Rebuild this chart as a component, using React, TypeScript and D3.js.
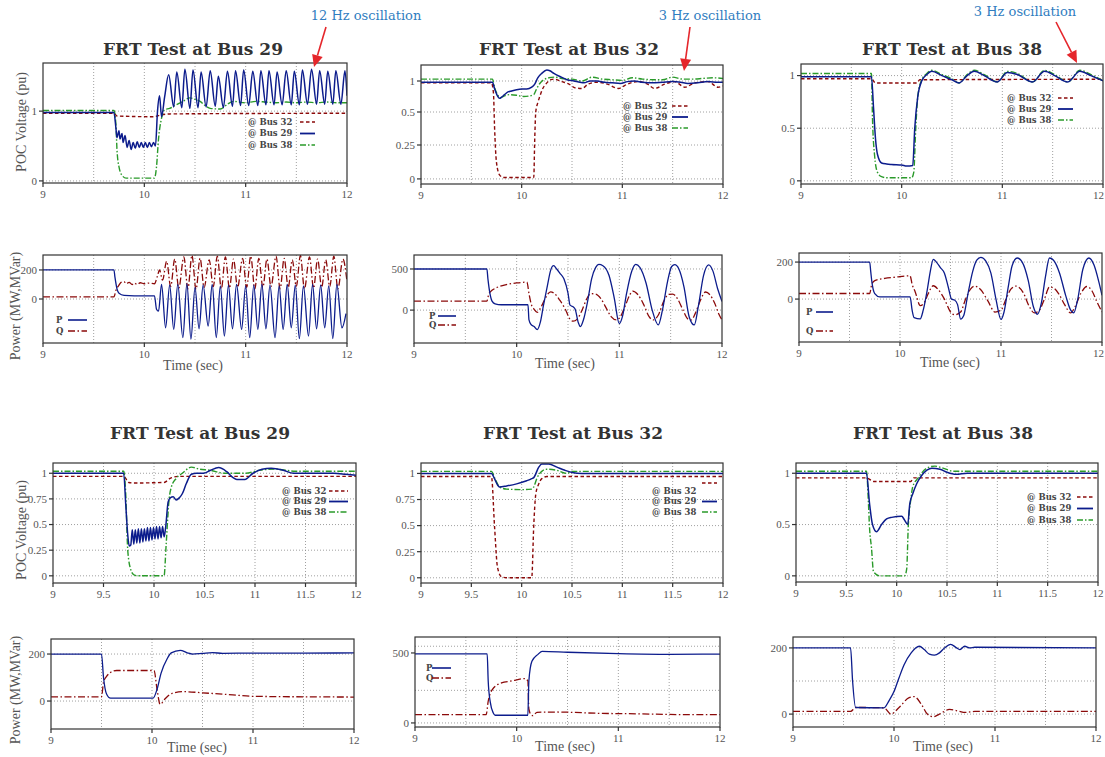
import React from 'react';
import * as d3 from 'd3';

type Pt = [number, number];

// ---------------- DATA ----------------
// Top row, FRT at Bus 29 (voltage)
const t1Bus32: Pt[] = [[9,0.97],[9.7,0.97],[9.73,0.93],[10.1,0.92],[10.15,0.94],[10.25,0.96],[12,0.97]];
const t1Bus29Pre: Pt[] = [[9,0.98],[9.7,0.98],[9.72,0.75],[9.73,0.62],[9.75,0.72],[9.76,0.6],[9.78,0.68],[9.79,0.55],[9.81,0.65],[9.83,0.48],[9.85,0.58],[9.87,0.45],[9.89,0.55],[9.91,0.47],[9.93,0.56],[9.95,0.48],[9.97,0.55],[9.99,0.48],[10.01,0.55],[10.03,0.48],[10.05,0.55],[10.07,0.49],[10.09,0.55],[10.11,0.5],[10.13,1.0],[10.15,1.22],[10.17,0.92],[10.2,1.2]];
const t1Bus29Peaks: Pt[] = [[10.24,1.52],[10.32,1.56],[10.40,1.60],[10.48,1.59],[10.56,1.56],[10.65,1.58],[10.73,1.50],[10.82,1.57],[10.90,1.58],[10.98,1.59],[11.07,1.57],[11.15,1.58],[11.23,1.58],[11.31,1.56],[11.40,1.58],[11.48,1.57],[11.56,1.59],[11.65,1.60],[11.73,1.58],[11.81,1.57],[11.89,1.58],[11.98,1.58]];
const t1Bus29Troughs: Pt[] = [[10.29,1.06],[10.37,1.05],[10.45,1.04],[10.53,1.05],[10.61,1.06],[10.70,1.07],[10.78,1.05],[10.87,1.07],[10.95,1.08],[11.03,1.08],[11.12,1.08],[11.20,1.09],[11.28,1.09],[11.36,1.09],[11.45,1.09],[11.53,1.09],[11.61,1.10],[11.70,1.10],[11.78,1.10],[11.86,1.10],[11.94,1.10],[12.0,1.22]];
const t1Bus38: Pt[] = [[9,1.01],[9.7,1.01],[9.72,0.8],[9.73,0.45],[9.75,0.2],[9.78,0.08],[9.82,0.04],[10.1,0.04],[10.12,0.2],[10.14,0.6],[10.17,0.9],[10.2,1.02],[10.25,1.04],[10.3,1.08],[10.38,1.14],[10.45,1.19],[10.5,1.17],[10.55,1.14],[10.6,1.08],[10.65,1.04],[10.75,1.03],[10.82,1.1],[10.88,1.14],[11.0,1.12],[11.1,1.14],[11.2,1.13],[11.3,1.12],[11.4,1.13],[11.5,1.12],[11.6,1.13],[11.7,1.12],[11.8,1.13],[11.9,1.12],[12,1.12]];

// Top row, FRT at Bus 32 (voltage)
const t2Bus32: Pt[] = [[9,0.97],[9.7,0.97],[9.72,0.8],[9.73,0.4],[9.75,0.12],[9.78,0.03],[9.82,0.01],[10.12,0.01],[10.13,0.3],[10.14,0.5],[10.16,0.65],[10.18,0.75],[10.21,0.88],[10.24,0.95],[10.29,1.02],[10.32,1.03],[10.4,0.99],[10.47,0.95],[10.53,0.89],[10.6,0.88],[10.66,0.95],[10.75,0.98],[10.85,0.95],[10.96,0.88],[11.05,0.95],[11.15,0.99],[11.25,0.95],[11.32,0.88],[11.42,0.95],[11.52,0.99],[11.62,0.9],[11.72,0.97],[11.85,0.99],[11.95,0.9],[12,0.92]];
const t2Bus29: Pt[] = [[9,0.98],[9.71,0.98],[9.73,0.88],[9.76,0.76],[9.78,0.72],[9.8,0.74],[9.83,0.78],[9.86,0.82],[9.9,0.84],[9.95,0.86],[10.0,0.87],[10.05,0.87],[10.1,0.9],[10.13,0.95],[10.16,1.05],[10.2,1.12],[10.25,1.17],[10.28,1.16],[10.32,1.12],[10.38,1.07],[10.45,1.02],[10.52,1.0],[10.58,0.98],[10.62,0.97],[10.68,1.0],[10.75,1.0],[10.82,0.98],[10.9,0.97],[10.98,0.96],[11.05,0.99],[11.12,1.0],[11.2,0.98],[11.3,0.97],[11.4,0.98],[11.5,0.99],[11.58,0.98],[11.65,0.96],[11.75,0.97],[11.85,0.99],[11.95,0.98],[12,0.98]];
const t2Bus38: Pt[] = [[9,1.03],[9.71,1.03],[9.73,0.9],[9.76,0.78],[9.79,0.73],[9.83,0.76],[9.88,0.78],[9.95,0.77],[10.02,0.75],[10.08,0.76],[10.12,0.78],[10.15,0.88],[10.18,0.96],[10.22,1.02],[10.27,1.05],[10.33,1.06],[10.4,1.04],[10.5,1.03],[10.6,1.0],[10.7,1.06],[10.8,1.03],[10.9,1.02],[11.0,1.01],[11.1,1.05],[11.2,1.03],[11.3,1.02],[11.4,1.02],[11.5,1.06],[11.6,1.03],[11.7,1.03],[11.8,1.04],[11.9,1.05],[12,1.04]];

// Top row, FRT at Bus 38 (voltage)
const t3Bus32: Pt[] = [[9,0.97],[9.7,0.97],[9.74,0.93],[10.15,0.93],[10.18,0.96],[12,0.965]];
const t3Bus29: Pt[] = [[9,0.99],[9.7,0.99],[9.72,0.7],[9.74,0.4],[9.76,0.25],[9.8,0.17],[9.85,0.16],[9.9,0.155],[10.0,0.15],[10.05,0.14],[10.11,0.145],[10.13,0.5],[10.16,0.8],[10.2,0.95],[10.25,1.01],[10.3,1.04],[10.4,1.0],[10.5,0.96],[10.57,0.93],[10.65,1.0],[10.72,1.04],[10.82,1.0],[10.95,0.94],[11.05,1.03],[11.15,1.01],[11.3,0.94],[11.42,1.04],[11.52,1.0],[11.65,0.94],[11.77,1.04],[11.88,1.0],[12,0.95]];
const t3Bus38: Pt[] = [[9,1.02],[9.7,1.02],[9.71,0.6],[9.73,0.25],[9.76,0.08],[9.8,0.04],[9.85,0.03],[10.1,0.03],[10.12,0.08],[10.14,0.5],[10.16,0.8],[10.2,0.96],[10.25,1.02],[10.3,1.05],[10.4,1.01],[10.5,0.97],[10.57,0.93],[10.65,1.01],[10.72,1.05],[10.82,1.01],[10.95,0.94],[11.05,1.04],[11.15,1.02],[11.3,0.94],[11.42,1.05],[11.52,1.01],[11.65,0.94],[11.77,1.05],[11.88,1.01],[12,0.95]];

// Top row power panels
const t4PPre: Pt[] = [[9,200],[9.7,200],[9.71,150],[9.73,70],[9.75,40],[9.8,25],[9.9,22],[10.1,22],[10.12,-70],[10.14,-84],[10.17,100]];
const t4PTroughs: Pt[] = [[10.21,-198],[10.29,-209],[10.38,-266],[10.46,-277],[10.54,-205],[10.63,-186],[10.71,-266],[10.79,-255],[10.87,-205],[10.96,-209],[11.04,-266],[11.12,-209],[11.2,-205],[11.29,-266],[11.37,-209],[11.45,-198],[11.53,-273],[11.62,-255],[11.7,-205],[11.78,-198],[11.86,-273],[11.95,-198]];
const t4PPeaks: Pt[] = [[10.25,95],[10.33,100],[10.42,105],[10.5,80],[10.58,95],[10.67,100],[10.75,90],[10.83,95],[10.91,100],[11.0,90],[11.08,95],[11.16,100],[11.24,95],[11.33,90],[11.41,100],[11.49,95],[11.57,90],[11.66,100],[11.74,95],[11.82,90],[11.9,100],[11.99,-100]];
const t4QPre: Pt[] = [[9,15],[9.7,15],[9.72,60],[9.75,95],[9.77,115],[9.8,120],[9.82,105],[9.85,115],[9.88,100],[9.9,110],[9.93,100],[9.96,112],[10.0,105],[10.05,110],[10.1,105],[10.13,160],[10.15,200],[10.18,130]];
const t4QPeaks: Pt[] = [[10.22,260],[10.3,275],[10.39,290],[10.47,300],[10.55,280],[10.64,270],[10.72,295],[10.8,290],[10.88,275],[10.97,280],[11.05,295],[11.13,280],[11.21,275],[11.3,295],[11.38,280],[11.46,270],[11.54,300],[11.63,290],[11.71,275],[11.79,270],[11.87,295],[11.96,275]];
const t4QTroughs: Pt[] = [[10.26,85],[10.34,75],[10.43,70],[10.51,65],[10.59,80],[10.68,85],[10.76,70],[10.84,75],[10.92,80],[11.01,80],[11.09,70],[11.17,80],[11.25,85],[11.34,70],[11.42,80],[11.5,85],[11.58,70],[11.67,75],[11.75,80],[11.83,85],[11.91,70],[12.0,120]];

const t5P: Pt[] = [[9,500],[9.71,500],[9.72,380],[9.74,200],[9.76,110],[9.79,77],[9.85,65],[10.11,65],[10.12,-120],[10.14,-175],[10.17,-200],[10.2,-238],[10.23,-150],[10.26,50],[10.3,300],[10.33,480],[10.36,540],[10.39,500],[10.42,450],[10.46,380],[10.5,206],[10.52,60],[10.55,40],[10.57,10],[10.6,-150],[10.62,-200],[10.65,-120],[10.69,100],[10.73,380],[10.77,520],[10.8,556],[10.84,540],[10.9,420],[10.95,150],[11.0,-165],[11.03,-80],[11.07,200],[11.12,470],[11.16,555],[11.2,520],[11.26,330],[11.32,0],[11.38,-180],[11.42,0],[11.47,350],[11.51,530],[11.54,552],[11.58,500],[11.63,280],[11.68,-80],[11.73,-180],[11.77,50],[11.82,420],[11.87,550],[11.91,480],[11.96,250],[12,105]];
const t5Q: Pt[] = [[9,110],[9.71,110],[9.73,200],[9.76,240],[9.8,270],[9.9,310],[10.0,330],[10.1,340],[10.12,200],[10.14,80],[10.17,10],[10.2,-28],[10.23,20],[10.27,120],[10.3,190],[10.33,222],[10.37,200],[10.42,120],[10.47,20],[10.52,-110],[10.55,-135],[10.59,-110],[10.63,-20],[10.68,130],[10.72,200],[10.77,195],[10.82,140],[10.87,30],[10.92,-80],[10.97,-120],[11.01,-80],[11.06,60],[11.1,180],[11.13,230],[11.18,190],[11.24,60],[11.29,-80],[11.33,-120],[11.38,-60],[11.43,100],[11.48,190],[11.52,195],[11.57,130],[11.62,0],[11.67,-110],[11.7,-120],[11.74,-40],[11.79,120],[11.84,220],[11.88,190],[11.93,80],[11.97,-50],[12,-120]];

const t6P: Pt[] = [[9,200],[9.7,200],[9.71,150],[9.72,100],[9.75,30],[9.8,12],[10.1,12],[10.12,-60],[10.14,-100],[10.2,-107],[10.23,-60],[10.27,50],[10.3,150],[10.33,215],[10.36,200],[10.4,170],[10.44,140],[10.48,60],[10.51,0],[10.54,-5],[10.57,-30],[10.6,-108],[10.63,-90],[10.67,20],[10.72,150],[10.76,210],[10.8,225],[10.85,205],[10.9,140],[10.95,0],[11.0,-110],[11.03,-70],[11.07,60],[11.11,180],[11.16,222],[11.21,200],[11.27,100],[11.32,-40],[11.36,-82],[11.4,-20],[11.44,120],[11.48,222],[11.52,210],[11.58,140],[11.64,20],[11.69,-60],[11.72,-75],[11.76,0],[11.81,160],[11.87,222],[11.92,185],[11.97,90],[12,20]];
const t6Q: Pt[] = [[9,30],[9.7,30],[9.72,80],[9.75,100],[9.85,112],[9.95,118],[10.1,126],[10.12,80],[10.15,40],[10.2,-35],[10.24,-20],[10.28,30],[10.33,72],[10.38,50],[10.44,0],[10.5,-70],[10.54,-85],[10.6,-70],[10.65,0],[10.7,55],[10.74,70],[10.8,50],[10.87,-10],[10.94,-70],[11.0,-60],[11.05,0],[11.1,55],[11.15,70],[11.22,35],[11.28,-40],[11.33,-75],[11.38,-60],[11.43,0],[11.48,65],[11.52,60],[11.57,30],[11.63,-30],[11.69,-75],[11.73,-45],[11.79,30],[11.85,68],[11.9,45],[11.95,-15],[12,-70]];

// Bottom row
const b1Bus32: Pt[] = [[9,0.97],[9.7,0.97],[9.75,0.91],[9.8,0.905],[10.1,0.91],[10.16,0.95],[10.25,0.97],[12,0.97]];
const b1Bus29: Pt[] = [[9,1.0],[9.7,1.0],[9.72,0.7],[9.74,0.4],[9.755,0.29],[9.77,0.30],[9.785,0.45],[9.80,0.31],[9.815,0.45],[9.83,0.32],[9.845,0.46],[9.86,0.32],[9.875,0.46],[9.89,0.33],[9.905,0.46],[9.92,0.34],[9.935,0.47],[9.95,0.34],[9.965,0.47],[9.98,0.35],[9.995,0.47],[10.01,0.36],[10.025,0.48],[10.04,0.36],[10.055,0.48],[10.07,0.37],[10.085,0.48],[10.1,0.38],[10.115,0.47],[10.14,0.72],[10.16,0.76],[10.19,0.77],[10.22,0.74],[10.25,0.76],[10.28,0.8],[10.32,0.9],[10.37,0.99],[10.42,1.0],[10.49,1.0],[10.56,1.03],[10.64,1.055],[10.72,1.015],[10.78,0.96],[10.82,0.94],[10.9,0.94],[10.98,1.0],[11.07,1.04],[11.16,1.05],[11.28,1.03],[11.38,1.0],[11.5,1.0],[11.61,1.0],[11.78,1.0],[11.9,0.99],[12,0.98]];
const b1Bus38: Pt[] = [[9,1.02],[9.7,1.02],[9.72,0.8],[9.74,0.25],[9.77,0.06],[9.8,0.01],[9.83,0.0],[10.1,0.0],[10.12,0.3],[10.15,0.75],[10.17,0.86],[10.22,0.95],[10.28,1.0],[10.37,1.06],[10.45,1.04],[10.55,1.03],[10.7,1.0],[10.8,1.0],[10.9,1.0],[11.05,1.03],[11.2,1.04],[11.4,1.02],[12,1.02]];
const b1P: Pt[] = [[9,200],[9.5,200],[9.52,100],[9.55,30],[9.59,12],[10.01,12],[10.05,50],[10.09,119],[10.15,180],[10.19,205],[10.28,216],[10.35,205],[10.4,200],[10.5,203],[10.6,206],[10.7,203],[11,204],[11.5,204],[12,205]];
const b1Q: Pt[] = [[9,18],[9.5,18],[9.52,80],[9.55,105],[9.58,119],[9.65,130],[10.02,130],[10.05,50],[10.08,-14],[10.13,10],[10.2,33],[10.31,40],[10.5,35],[10.8,26],[11,20],[12,17]];

const b2Bus32: Pt[] = [[9,0.97],[9.7,0.97],[9.73,0.5],[9.76,0.1],[9.8,0.01],[9.85,0.0],[10.1,0.0],[10.12,0.5],[10.14,0.8],[10.17,0.9],[10.2,0.95],[10.25,0.97],[12,0.97]];
const b2Bus29: Pt[] = [[9,1.0],[9.7,1.0],[9.73,0.95],[9.76,0.89],[9.78,0.87],[9.85,0.88],[9.95,0.9],[10.05,0.93],[10.1,0.95],[10.12,0.96],[10.17,1.06],[10.2,1.09],[10.27,1.09],[10.35,1.06],[10.43,1.03],[10.5,1.01],[10.6,1.0],[12,1.0]];
const b2Bus38: Pt[] = [[9,1.02],[9.7,1.02],[9.73,0.96],[9.76,0.9],[9.78,0.87],[9.85,0.85],[10.0,0.845],[10.1,0.85],[10.12,0.87],[10.15,0.95],[10.2,1.02],[10.25,1.04],[10.35,1.03],[10.45,1.0],[10.5,1.02],[12,1.02]];
const b2P: Pt[] = [[9,493],[9.71,493],[9.72,300],[9.74,150],[9.77,71],[9.79,55],[10.11,55],[10.12,300],[10.15,440],[10.21,490],[10.25,512],[10.5,505],[11,495],[11.5,490],[12,492]];
const b2Q: Pt[] = [[9,60],[9.7,60],[9.72,155],[9.76,238],[9.85,286],[9.95,300],[10.08,317],[10.11,300],[10.12,100],[10.14,60],[10.16,52],[10.2,76],[10.4,78],[10.8,69],[11.2,65],[11.6,60],[12,60]];

const b3Bus32: Pt[] = [[9,0.955],[9.7,0.955],[9.77,0.92],[10.14,0.92],[10.17,0.955],[12,0.955]];
const b3Bus29: Pt[] = [[9,1.0],[9.7,1.0],[9.73,0.71],[9.76,0.5],[9.8,0.43],[9.85,0.5],[9.9,0.555],[9.95,0.57],[10.05,0.58],[10.075,0.55],[10.11,0.5],[10.13,0.7],[10.16,0.8],[10.2,0.9],[10.25,0.98],[10.3,1.03],[10.35,1.05],[10.43,1.04],[10.5,1.01],[10.59,0.99],[10.7,1.0],[12,1.0]];
const b3Bus38: Pt[] = [[9,1.02],[9.7,1.02],[9.72,0.7],[9.73,0.48],[9.75,0.27],[9.77,0.04],[9.83,0.0],[10.08,0.0],[10.1,0.07],[10.115,0.48],[10.14,0.74],[10.16,0.87],[10.21,0.95],[10.3,1.05],[10.38,1.07],[10.46,1.05],[10.56,1.02],[12,1.02]];
const b3P: Pt[] = [[9,200],[9.57,200],[9.59,100],[9.62,20],[9.9,19],[9.95,40],[10.0,68],[10.05,110],[10.1,149],[10.17,185],[10.25,205],[10.3,195],[10.35,181],[10.4,178],[10.45,185],[10.5,200],[10.56,211],[10.62,200],[10.65,195],[10.7,205],[10.75,200],[10.8,202],[12,200]];
const b3Q: Pt[] = [[9,8],[9.57,8],[9.62,20],[9.9,19],[9.97,0],[10.05,20],[10.15,50],[10.2,53],[10.27,30],[10.33,0],[10.39,-8],[10.45,0],[10.55,14],[10.65,8],[10.7,5],[10.8,8],[12,8]];

// Tick values / labels
const xTicksWhole = [9, 10, 11, 12];
const xTicksHalf = [9, 9.5, 10, 10.5, 11, 11.5, 12];
const xGridHalf = [9.5, 10, 10.5, 11, 11.5];
const busLabels = ['@ Bus 32', '@ Bus 29', '@ Bus 38'];
const pqLabels = ['P', 'Q'];
const titles = ['FRT Test at Bus 29', 'FRT Test at Bus 32', 'FRT Test at Bus 38'];
const annotations = ['12 Hz oscillation', '3 Hz oscillation', '3 Hz oscillation'];

const merge = (...arrs: Pt[][]): Pt[] => ([] as Pt[]).concat(...arrs).sort((a, b) => a[0] - b[0]);

// ---------------- STYLES ----------------
const STY: Record<string, { stroke: string; dash?: string; width: number }> = {
  bus32: { stroke: '#8b0a0a', dash: '3.5,2.5', width: 1.4 },
  bus29: { stroke: '#0c1c8c', width: 1.5 },
  bus38: { stroke: '#2a9a2a', dash: '6,2,1.5,2', width: 1.4 },
  P: { stroke: '#0c1c8c', width: 1.3 },
  Q: { stroke: '#8b0a0a', dash: '7,2.5,1.5,2.5', width: 1.3 },
};

const SERIF = '"Liberation Serif", "DejaVu Serif", serif';
const WIDE = '"DejaVu Serif", "Liberation Serif", serif';
const PAGE_W = 1105;

interface Legend { x: number; y: number; dy: number; lx1: number; lx2: number; lineDy?: number[]; }
interface PanelCfg {
  id: string;
  box: [number, number, number, number];
  yDomain: number[];
  yRange?: number[];
  yTicks: number[];
  yTickLabels: string[];
  yGrid: number[];
  xTicks: number[];
  xGrid: number[];
  series: { data: Pt[]; style: string }[];
  legendLabels?: string[];
  legendStyles?: string[];
  legend?: Legend;
  title?: { x: number; y: number; text: string };
  xLabel?: { x: number; y: number };
  yLabel?: { x: number; y: number; text: string };
}

const busStyles = ['bus32', 'bus29', 'bus38'];
const pqStyles = ['P', 'Q'];

const panels: PanelCfg[] = [
  {
    id: 'p1', box: [43, 63, 347, 183], yDomain: [-0.03, 1.69], yTicks: [0, 1], yTickLabels: ['0', '1'], yGrid: [0, 1],
    xTicks: xTicksWhole, xGrid: xGridHalf,
    series: [{ data: t1Bus32, style: 'bus32' }, { data: t1Bus38, style: 'bus38' }, { data: merge(t1Bus29Pre, t1Bus29Peaks, t1Bus29Troughs), style: 'bus29' }],
    legendLabels: busLabels, legendStyles: busStyles, legend: { x: 248, y: 122, dy: 11.5, lx1: 300, lx2: 315 },
    title: { x: 193, y: 49, text: titles[0] }, yLabel: { x: 21, y: 122, text: 'POC Voltage (pu)' },
  },
  {
    id: 'p2', box: [421, 65, 723, 184], yDomain: [-0.0375, 0.25, 0.5, 1, 1.25], yRange: [184, 145, 112, 81, 65],
    yTicks: [0, 0.25, 0.5, 1], yTickLabels: ['0', '0.25', '0.5', '1'], yGrid: [0, 0.25, 0.5, 1],
    xTicks: xTicksWhole, xGrid: xGridHalf,
    series: [{ data: t2Bus32, style: 'bus32' }, { data: t2Bus38, style: 'bus38' }, { data: t2Bus29, style: 'bus29' }],
    legendLabels: busLabels, legendStyles: busStyles, legend: { x: 623, y: 106, dy: 11, lx1: 672, lx2: 688 },
    title: { x: 569, y: 49, text: titles[1] },
  },
  {
    id: 'p3', box: [801, 64, 1103, 184], yDomain: [-0.03, 1.11], yTicks: [0, 0.5, 1], yTickLabels: ['0', '0.5', '1'], yGrid: [0, 0.5, 1],
    xTicks: xTicksWhole, xGrid: xGridHalf,
    series: [{ data: t3Bus32, style: 'bus32' }, { data: t3Bus38, style: 'bus38' }, { data: t3Bus29, style: 'bus29' }],
    legendLabels: busLabels, legendStyles: busStyles, legend: { x: 1007, y: 98, dy: 11, lx1: 1058, lx2: 1073 },
    title: { x: 952, y: 49, text: titles[2] },
  },
  {
    id: 'p4', box: [43, 255, 347, 343], yDomain: [-303, 303], yTicks: [0, 200], yTickLabels: ['0', '200'], yGrid: [0, 200],
    xTicks: xTicksWhole, xGrid: xGridHalf,
    series: [{ data: merge(t4QPre, t4QPeaks, t4QTroughs), style: 'Q' }, { data: merge(t4PPre, t4PTroughs, t4PPeaks), style: 'P' }],
    legendLabels: pqLabels, legendStyles: pqStyles, legend: { x: 56, y: 320, dy: 11, lx1: 68, lx2: 87 },
    xLabel: { x: 193, y: 365 }, yLabel: { x: 15, y: 306, text: 'Power (MW,MVar)' },
  },
  {
    id: 'p5', box: [414, 255, 722, 343], yDomain: [-400, 670], yTicks: [0, 500], yTickLabels: ['0', '500'], yGrid: [0, 500],
    xTicks: xTicksWhole, xGrid: xGridHalf,
    series: [{ data: t5Q, style: 'Q' }, { data: t5P, style: 'P' }],
    legendLabels: pqLabels, legendStyles: pqStyles, legend: { x: 429, y: 316, dy: 9, lx1: 438, lx2: 456 },
    xLabel: { x: 565, y: 363 },
  },
  {
    id: 'p6', box: [799, 253, 1102, 342], yDomain: [-232, 249], yTicks: [0, 200], yTickLabels: ['0', '200'], yGrid: [0, 200],
    xTicks: xTicksWhole, xGrid: xGridHalf,
    series: [{ data: t6Q, style: 'Q' }, { data: t6P, style: 'P' }],
    legendLabels: pqLabels, legendStyles: pqStyles, legend: { x: 806, y: 312, dy: 19, lx1: 816, lx2: 833 },
    xLabel: { x: 950, y: 362 },
  },
  {
    id: 'p7', box: [53, 463, 356, 583], yDomain: [-0.07, 1.1], yTicks: [0, 0.25, 0.5, 0.75, 1], yTickLabels: ['0', '0.25', '0.5', '0.75', '1'], yGrid: [0, 0.25, 0.5, 0.75, 1],
    xTicks: xTicksHalf, xGrid: xGridHalf,
    series: [{ data: b1Bus32, style: 'bus32' }, { data: b1Bus38, style: 'bus38' }, { data: b1Bus29, style: 'bus29' }],
    legendLabels: busLabels, legendStyles: busStyles, legend: { x: 282, y: 491, dy: 10.5, lx1: 329, lx2: 348 },
    title: { x: 200, y: 433, text: titles[0] }, yLabel: { x: 21, y: 530, text: 'POC Voltage (pu)' },
  },
  {
    id: 'p8', box: [51, 639, 354, 729], yDomain: [-119, 264], yTicks: [0, 200], yTickLabels: ['0', '200'], yGrid: [0, 200],
    xTicks: xTicksWhole, xGrid: xGridHalf,
    series: [{ data: b1Q, style: 'Q' }, { data: b1P, style: 'P' }],
    xLabel: { x: 197, y: 747 }, yLabel: { x: 15, y: 690, text: 'Power (MW,MVar)' },
  },
  {
    id: 'p9', box: [421, 463, 723, 583], yDomain: [-0.05, 1.1], yTicks: [0, 0.25, 0.5, 0.75, 1], yTickLabels: ['0', '0.25', '0.5', '0.75', '1'], yGrid: [0, 0.25, 0.5, 0.75, 1],
    xTicks: xTicksHalf, xGrid: xGridHalf,
    series: [{ data: b2Bus32, style: 'bus32' }, { data: b2Bus38, style: 'bus38' }, { data: b2Bus29, style: 'bus29' }],
    legendLabels: busLabels, legendStyles: busStyles, legend: { x: 652, y: 491, dy: 10.5, lx1: 702, lx2: 717, lineDy: [-8, 0, 0] },
    title: { x: 573, y: 433, text: titles[1] },
  },
  {
    id: 'p10', box: [796, 463, 1098, 582], yDomain: [-0.06, 1.1], yTicks: [0, 0.5, 1], yTickLabels: ['0', '0.5', '1'], yGrid: [0, 0.5, 1],
    xTicks: xTicksHalf, xGrid: xGridHalf,
    series: [{ data: b3Bus32, style: 'bus32' }, { data: b3Bus38, style: 'bus38' }, { data: b3Bus29, style: 'bus29' }],
    legendLabels: busLabels, legendStyles: busStyles, legend: { x: 1027, y: 497, dy: 11.5, lx1: 1077, lx2: 1093 },
    title: { x: 943, y: 433, text: titles[2] },
  },
  {
    id: 'p11', box: [415, 637, 720, 727], yDomain: [-29, 614], yTicks: [0, 500], yTickLabels: ['0', '500'], yGrid: [0, 233, 548],
    xTicks: xTicksWhole, xGrid: xGridHalf,
    series: [{ data: b2Q, style: 'Q' }, { data: b2P, style: 'P' }],
    legendLabels: pqLabels, legendStyles: pqStyles, legend: { x: 426, y: 668, dy: 10, lx1: 432, lx2: 451 },
    xLabel: { x: 565, y: 746 },
  },
  {
    id: 'p12', box: [793, 637, 1096, 727], yDomain: [-39, 233], yTicks: [0, 200], yTickLabels: ['0', '200'], yGrid: [0, 100, 200],
    xTicks: xTicksWhole, xGrid: xGridHalf,
    series: [{ data: b3Q, style: 'Q' }, { data: b3P, style: 'P' }],
    xLabel: { x: 943, y: 746 },
  },
];

const annPos = [
  { x: 366, y: 15, a: [326, 27, 314, 67] },
  { x: 710, y: 15, a: [690, 27, 684, 71] },
  { x: 1025, y: 11, a: [1056, 22, 1077, 63] },
];

function Panel({ cfg }: { cfg: PanelCfg }) {
  const [l, t, r, b] = cfg.box;
  const x = d3.scaleLinear().domain([9, 12]).range([l, r]);
  const y = d3.scaleLinear().domain(cfg.yDomain).range(cfg.yRange ?? [b, t]);
  const line = d3.line<Pt>().x(d => x(d[0])).y(d => y(d[1])).curve(d3.curveMonotoneX);
  const clipId = `clip-${cfg.id}`;
  return (
    <g>
      <defs>
        <clipPath id={clipId}><rect x={l} y={t} width={r - l} height={b - t} /></clipPath>
      </defs>
      {cfg.xGrid.map(v => (
        <line key={'xg' + v} x1={x(v)} x2={x(v)} y1={t} y2={b} stroke="#888" strokeWidth={0.8} strokeDasharray="1,2" />
      ))}
      {cfg.yGrid.map(v => (
        <line key={'yg' + v} x1={l} x2={r} y1={y(v)} y2={y(v)} stroke="#888" strokeWidth={0.8} strokeDasharray="1,2" />
      ))}
      <g clipPath={`url(#${clipId})`}>
        {cfg.series.map((s, i) => {
          const st = STY[s.style];
          return <path key={i} d={line(s.data) || ''} fill="none" stroke={st.stroke} strokeWidth={st.width} strokeDasharray={st.dash} strokeLinejoin="round" />;
        })}
      </g>
      <rect x={l} y={t} width={r - l} height={b - t} fill="none" stroke="#333" strokeWidth={1.2} />
      {cfg.yTicks.map((v, i) => (
        <g key={'yt' + v}>
          <line x1={l - 4} x2={l} y1={y(v)} y2={y(v)} stroke="#333" strokeWidth={1.2} />
          <text x={l - 6} y={y(v)} dy="0.35em" textAnchor="end" fontSize={11} fontFamily={SERIF} fill="#555">{cfg.yTickLabels[i]}</text>
        </g>
      ))}
      {cfg.xTicks.map(v => {
        const px = x(v);
        const nearEdge = px + 7 > PAGE_W;
        return (
          <g key={'xt' + v}>
            <line x1={px} x2={px} y1={b} y2={b + 4} stroke="#333" strokeWidth={1.2} />
            <text x={nearEdge ? PAGE_W - 1 : px} y={b + 11} dy="0.35em" textAnchor={nearEdge ? 'end' : 'middle'} fontSize={11} fontFamily={SERIF} fill="#555">{v}</text>
          </g>
        );
      })}
      {cfg.legend && cfg.legendLabels && cfg.legendLabels.map((lab, i) => {
        const lg = cfg.legend!;
        const yy = lg.y + i * lg.dy;
        const st = STY[cfg.legendStyles![i]];
        const ldy = lg.lineDy ? lg.lineDy[i] : 0;
        return (
          <g key={'lg' + i}>
            <text x={lg.x} y={yy} dy="0.35em" fontSize={8.5} fontWeight="bold" fontFamily={WIDE} fill="#444">{lab}</text>
            <line x1={lg.lx1} x2={lg.lx2} y1={yy + ldy} y2={yy + ldy} stroke={st.stroke} strokeWidth={st.width + 0.3} strokeDasharray={st.dash} />
          </g>
        );
      })}
      {cfg.title && (
        <text x={cfg.title.x} y={cfg.title.y} dy="0.35em" textAnchor="middle" fontSize={17} fontWeight="bold" fontFamily={WIDE} fill="#333">{cfg.title.text}</text>
      )}
      {cfg.xLabel && (
        <text x={cfg.xLabel.x} y={cfg.xLabel.y} dy="0.35em" textAnchor="middle" fontSize={14} fontFamily={SERIF} fill="#555">Time (sec)</text>
      )}
      {cfg.yLabel && (
        <text transform={`translate(${cfg.yLabel.x},${cfg.yLabel.y}) rotate(-90)`} dy="0.35em" textAnchor="middle" fontSize={14} fontFamily={SERIF} fill="#555">{cfg.yLabel.text}</text>
      )}
    </g>
  );
}

function Arrow({ a }: { a: number[] }) {
  const [x1, y1, x2, y2] = a;
  const ang = Math.atan2(y2 - y1, x2 - x1);
  const len = 12, wid = 5.5;
  const bx = x2 - len * Math.cos(ang), by = y2 - len * Math.sin(ang);
  const px = -Math.sin(ang) * wid, py = Math.cos(ang) * wid;
  return (
    <g>
      <line x1={x1} y1={y1} x2={bx} y2={by} stroke="#e5262b" strokeWidth={1.6} />
      <polygon points={`${x2},${y2} ${bx + px},${by + py} ${bx - px},${by - py}`} fill="#e5262b" />
    </g>
  );
}

export default function App() {
  return (
    <svg width={1105} height={757} style={{ position: 'absolute', left: 0, top: 0, background: '#fff' }}>
      <rect x={0} y={0} width={1105} height={757} fill="#fff" />
      {panels.map(p => <Panel key={p.id} cfg={p} />)}
      {annPos.map((p, i) => (
        <g key={'ann' + i}>
          <text x={p.x} y={p.y} dy="0.35em" textAnchor="middle" fontSize={13} fontFamily={WIDE} fill="#2f7dc0">{annotations[i]}</text>
          <Arrow a={p.a} />
        </g>
      ))}
    </svg>
  );
}
